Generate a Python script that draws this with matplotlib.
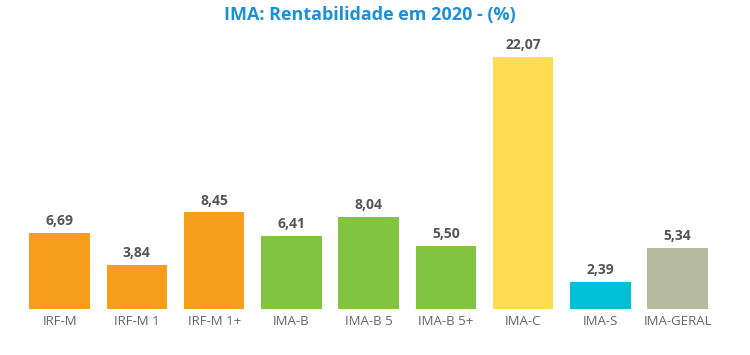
import matplotlib
matplotlib.use('Agg')
import matplotlib.pyplot as plt

# dados
categorias = ['IRF-M', 'IRF-M 1', 'IRF-M 1+', 'IMA-B', 'IMA-B 5', 'IMA-B 5+', 'IMA-C', 'IMA-S', 'IMA-GERAL']
rentab = [6.69, 3.84, 8.45, 6.41, 8.04, 5.50, 22.07, 2.39, 5.34]
cores = ['#F99D1C', '#F99D1C', '#F99D1C', '#82C341', '#82C341', '#82C341', '#FFDD4F', '#00BFD6', '#B6BA9E']

plt.rcParams['font.family'] = ['Open Sans', 'DejaVu Sans']

fig = plt.figure(figsize=(7.5, 3.55), dpi=100)
ax = fig.add_axes([0.028, 0.1296, 0.927, 0.7577])

x = range(len(categorias))
bars = ax.bar(x, rentab, width=0.78, color=cores)
ax.set_xlim(-0.5, len(categorias) - 0.5)
ax.set_ylim(0, 23.55)

for b, v in zip(bars, rentab):
    ax.annotate(f'{v:.2f}'.replace('.', ','), (b.get_x() + b.get_width() / 2, v),
                xytext=(0, 3.5), textcoords='offset points', ha='center', va='bottom',
                fontsize=10, fontweight='bold', color='#555555')

ax.set_xticks(list(x))
ax.set_xticklabels(categorias, fontsize=9.5, color='#666666')
ax.tick_params(axis='x', length=0, pad=4)
ax.set_yticks([])
for s in ax.spines.values():
    s.set_visible(False)

fig.text(0.493, 0.958, 'IMA: Rentabilidade em 2020 - (%)', ha='center', va='center',
         fontsize=13, fontweight='bold', color='#1E90D6')

fig.savefig('out.png', dpi=100)
